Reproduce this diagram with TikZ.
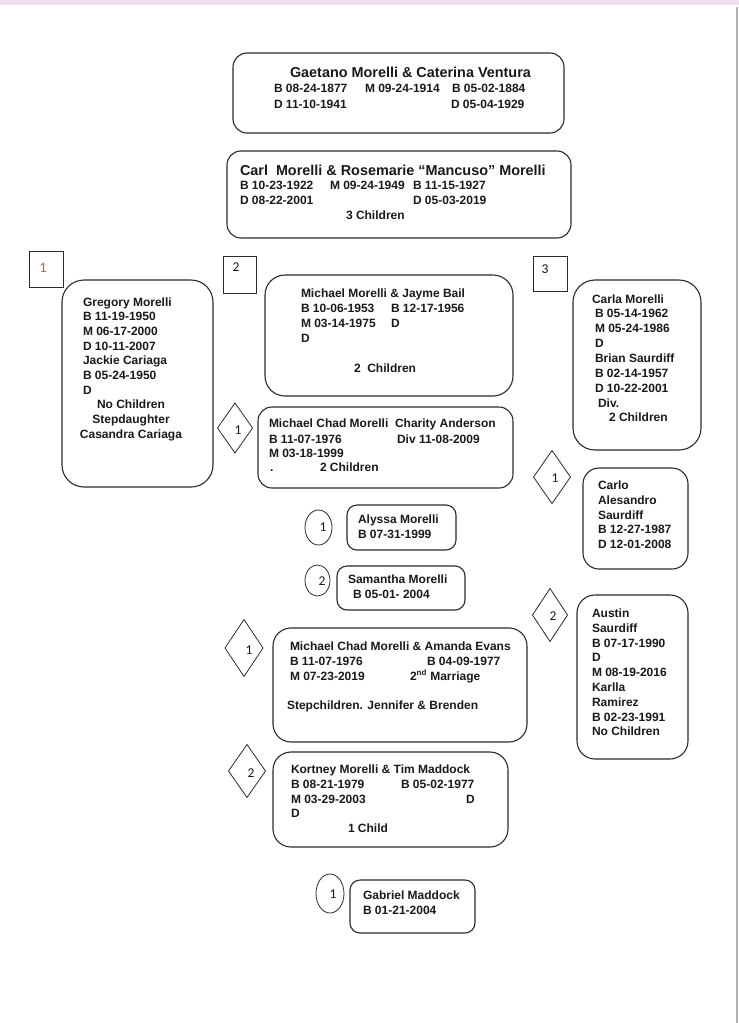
\documentclass[tikz,border=0pt]{standalone}
\usepackage{fontspec}
\setmainfont{Liberation Sans}
\newfontfamily\numfont{Carlito}
\usetikzlibrary{shapes.geometric}
\definecolor{ink}{HTML}{2B2B2B}
\definecolor{textink}{HTML}{1A1A1A}
\definecolor{redlabel}{HTML}{E2533F}
\definecolor{pinkstrip}{HTML}{F1E1EE}
\definecolor{edgegray}{HTML}{B4B4B4}
\newcounter{tn}
\tikzset{
  card/.style={draw=ink, line width=1.1pt, rounded corners=#1, rectangle, inner sep=0pt, outer sep=0pt, anchor=north west},
  tagbox/.style={draw=ink, line width=0.8pt, rectangle, inner sep=0pt, outer sep=0pt, anchor=north west},
  diam/.style={draw=ink, line width=0.8pt, diamond, inner sep=0pt, outer sep=0pt},
  oval/.style={draw=ink, line width=0.8pt, ellipse, inner sep=0pt, outer sep=0pt},
  txt/.style={anchor=base west, inner sep=0pt, outer sep=0pt, text=textink, font=\fontsize{12}{14}\selectfont\bfseries},
  ctxt/.style={txt, anchor=base},
  ttl/.style={txt, font=\fontsize{14.4}{17}\selectfont\bfseries},
  num/.style={inner sep=0pt, outer sep=0pt, text=textink, font=\fontsize{13.5}{15}\selectfont\numfont},
}
\newcommand\txl[4][txt]{\stepcounter{tn}\node[#1] (t\arabic{tn}) at (#2,#3) {#4};}
\begin{document}
\begin{tikzpicture}[x=1pt,y=-1pt]
\useasboundingbox (0,0) rectangle (739,1023);
\fill[white] (0,0) rectangle (739,1023);
\fill[pinkstrip] (0,0) rectangle (739,5);
\fill[edgegray] (735.5,7) rectangle (738,1023);

% ---------- boxes ----------
\node[card=14pt, minimum width=331pt, minimum height=80pt] (gaetano) at (233,53) {};
\node[card=14pt, minimum width=344pt, minimum height=87pt] (carl) at (227,151) {};
\node[card=22pt, minimum width=151pt, minimum height=207pt] (greg) at (62,280) {};
\node[card=20pt, minimum width=248pt, minimum height=121pt] (michael) at (265,275) {};
\node[card=14pt, minimum width=255pt, minimum height=81pt] (chad) at (258,407) {};
\node[card=22pt, minimum width=128pt, minimum height=170pt] (carla) at (573,280) {};
\node[card=16pt, minimum width=105pt, minimum height=101pt] (carlo) at (583,468) {};
\node[card=18pt, minimum width=111pt, minimum height=164pt] (austin) at (577,595) {};
\node[card=10pt, minimum width=109pt, minimum height=45pt] (alyssa) at (347,505) {};
\node[card=10pt, minimum width=128pt, minimum height=44pt] (samantha) at (337,566) {};
\node[card=18pt, minimum width=254pt, minimum height=114pt] (amanda) at (273,628) {};
\node[card=18pt, minimum width=235pt, minimum height=95pt] (kortney) at (273,752) {};
\node[card=10pt, minimum width=125pt, minimum height=53pt] (gabriel) at (350,880) {};

% ---------- markers ----------
\node[tagbox, minimum width=34pt, minimum height=36pt] (sq1) at (29,251) {};
\node[tagbox, minimum width=33pt, minimum height=37pt] (sq2) at (223,256) {};
\node[tagbox, minimum width=34pt, minimum height=35pt] (sq3) at (533,256) {};
\node[diam, minimum width=35pt, minimum height=50pt] (dchad) at (235,428) {};
\node[diam, minimum width=37pt, minimum height=53pt] (dcarlo) at (552,477) {};
\node[diam, minimum width=35pt, minimum height=53pt] (daustin) at (550,615) {};
\node[diam, minimum width=38pt, minimum height=57pt] (damanda) at (244,648) {};
\node[diam, minimum width=37pt, minimum height=53pt] (dkortney) at (247,771) {};
\node[oval, minimum width=27pt, minimum height=35pt] (calyssa) at (318.5,527.5) {};
\node[oval, minimum width=25pt, minimum height=31pt] (csam) at (317.5,580.5) {};
\node[oval, minimum width=28pt, minimum height=39pt] (cgab) at (330,893.5) {};

\node[num, text=redlabel, font=\fontsize{14.5}{16}\selectfont\numfont] (n1) at (43,268) {1};
\node[num] (n2) at (236,267) {2};
\node[num] (n3) at (545,269) {3};
\node[num] (n4) at (238,430) {1};
\node[num] (n5) at (555,478) {1};
\node[num] (n6) at (553,616) {2};
\node[num] (n7) at (249,650) {1};
\node[num] (n8) at (251,773) {2};
\node[num] (n9) at (323,527) {1};
\node[num] (n10) at (322,581) {2};
\node[num] (n11) at (333,894) {1};

% ---------- Gaetano ----------
\txl[ttl]{290}{77}{Gaetano Morelli \& Caterina Ventura}
\txl{274}{92}{B 08-24-1877}
\txl{365}{92}{M 09-24-1914}
\txl{452}{92}{B 05-02-1884}
\txl{274}{108}{D 11-10-1941}
\txl{451}{108}{D 05-04-1929}

% ---------- Carl ----------
\txl[ttl]{240}{175}{Carl\ \ Morelli \& Rosemarie “Mancuso” Morelli}
\txl{240}{189}{B 10-23-1922}
\txl{330}{189}{M 09-24-1949}
\txl{413}{189}{B 11-15-1927}
\txl{240}{204}{D 08-22-2001}
\txl{413}{204}{D 05-03-2019}
\txl{346}{219}{3 Children}

% ---------- Gregory ----------
\txl{83}{306}{Gregory Morelli}
\txl{83}{320.7}{B 11-19-1950}
\txl{83}{335.4}{M 06-17-2000}
\txl{83}{350.1}{D 10-11-2007}
\txl{83}{364.8}{Jackie Cariaga}
\txl{83}{379.5}{B 05-24-1950}
\txl{83}{394.2}{D}
\txl[ctxt]{131}{408.9}{No Children}
\txl[ctxt]{131}{423.6}{Stepdaughter}
\txl[ctxt]{131}{438.3}{Casandra Cariaga}

% ---------- Michael ----------
\txl{301}{297}{Michael Morelli \& Jayme Bail}
\txl{301}{312}{B 10-06-1953}
\txl{391}{312}{B 12-17-1956}
\txl{301}{327}{M 03-14-1975}
\txl{391}{327}{D}
\txl{301}{342}{D}
\txl{354}{372}{2\ \ Children}

% ---------- Chad ----------
\txl{269}{427}{Michael Chad Morelli\ \ Charity Anderson}
\txl{269}{443}{B 11-07-1976}
\txl{397}{443}{Div 11-08-2009}
\txl{269}{457}{M 03-18-1999}
\txl{270}{471}{.}
\txl{320}{471}{2 Children}

% ---------- Carla ----------
\txl{592}{303}{Carla Morelli}
\txl{595}{317.9}{B 05-14-1962}
\txl{595}{332.7}{M 05-24-1986}
\txl{595}{347.6}{D}
\txl{595}{362.4}{Brian Saurdiff}
\txl{595}{377.3}{B 02-14-1957}
\txl{595}{392.1}{D 10-22-2001}
\txl{598}{407}{Div.}
\txl{609}{421.8}{2 Children}

% ---------- Carlo ----------
\txl{598}{489}{Carlo}
\txl{598}{504}{Alesandro}
\txl{598}{519}{Saurdiff}
\txl{598}{533.5}{B 12-27-1987}
\txl{598}{548}{D 12-01-2008}

% ---------- Austin ----------
\txl{592}{617.5}{Austin}
\txl{592}{632.3}{Saurdiff}
\txl{592}{647.1}{B 07-17-1990}
\txl{592}{661.9}{D}
\txl{592}{676.7}{M 08-19-2016}
\txl{592}{691.5}{Karlla}
\txl{592}{706.3}{Ramirez}
\txl{592}{721.1}{B 02-23-1991}
\txl{592}{735.9}{No Children}

% ---------- Alyssa / Samantha ----------
\txl{358}{523}{Alyssa Morelli}
\txl{358}{538}{B 07-31-1999}
\txl{348}{583}{Samantha Morelli}
\txl{353}{598}{B 05-01- 2004}

% ---------- Amanda ----------
\txl{290}{650}{Michael Chad Morelli \& Amanda Evans}
\txl{290}{665}{B 11-07-1976}
\txl{427}{665}{B 04-09-1977}
\txl{290}{680}{M 07-23-2019}
\txl{410}{680}{2\textsuperscript{nd} Marriage}
\txl{287}{709}{Stepchildren. Jennifer \& Brenden}

% ---------- Kortney ----------
\txl{291}{773}{Kortney Morelli \& Tim Maddock}
\txl{291}{788}{B 08-21-1979}
\txl{401}{788}{B 05-02-1977}
\txl{291}{803}{M 03-29-2003}
\txl{466}{803}{D}
\txl{291}{817}{D}
\txl{348}{832}{1 Child}

% ---------- Gabriel ----------
\txl{363}{899}{Gabriel Maddock}
\txl{363}{914}{B 01-21-2004}
\end{tikzpicture}
\end{document}
